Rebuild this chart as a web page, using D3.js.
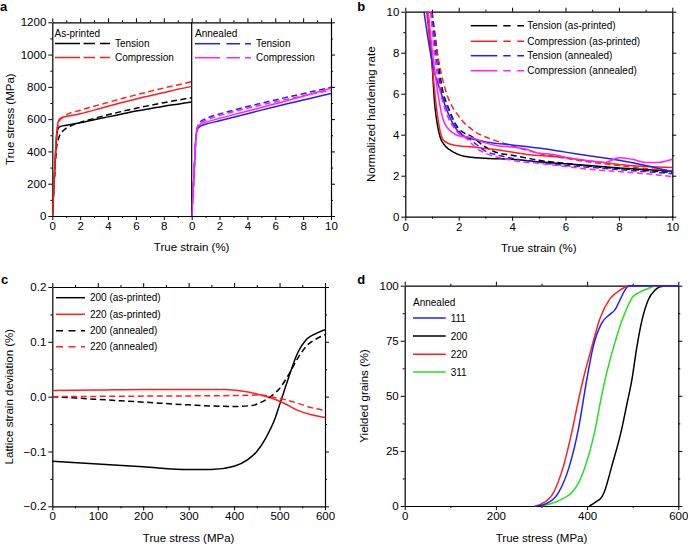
<!DOCTYPE html>
<html><head><meta charset="utf-8">
<script src="https://cdn.jsdelivr.net/npm/d3@7"></script>
<style>body{margin:0;background:#fff} svg{display:block;font-family:"Liberation Sans",Arial,sans-serif}</style>
</head><body><svg id="chart" width="688" height="544"></svg>
<script>
// ---------- DATA ----------
// Panel a: true stress (MPa) vs true strain (%)
const aPrintedTensionSolid = [[0,0],[0.1,150],[0.2,330],[0.3,480],[0.4,540],[0.6,555],[1,562],[2,578],[3,596],[4,614],[5,632],[6,650],[7,665],[8,680],[9,693],[10,706]];
const aPrintedTensionDash  = [[0,0],[0.1,150],[0.2,300],[0.3,420],[0.45,480],[0.6,510],[0.8,530],[1,545],[1.5,565],[2,580],[3,605],[4,627],[5,648],[6,667],[7,685],[8,702],[9,718],[10,733]];
const aPrintedCompSolid    = [[0,0],[0.1,170],[0.2,350],[0.3,500],[0.4,575],[0.5,600],[0.7,610],[1,616],[2,633],[3,656],[4,680],[5,703],[6,725],[7,745],[8,765],[9,785],[10,803]];
const aPrintedCompDash     = [[0,0],[0.1,160],[0.2,330],[0.3,480],[0.4,560],[0.55,595],[0.8,612],[1,625],[2,655],[3,680],[4,704],[5,728],[6,750],[7,772],[8,793],[9,812],[10,832]];
const aAnnealTensionSolid  = [[0,0],[0.1,150],[0.2,320],[0.3,480],[0.4,535],[0.6,555],[1,568],[2,590],[3,612],[4,634],[5,656],[6,677],[7,698],[8,718],[9,739],[10,759]];
const aAnnealTensionDash   = [[0,0],[0.1,150],[0.2,320],[0.3,480],[0.4,545],[0.6,582],[1,602],[2,632],[3,656],[4,678],[5,699],[6,719],[7,739],[8,758],[9,778],[10,797]];
const aAnnealCompSolid     = [[0,0],[0.1,150],[0.2,320],[0.3,480],[0.4,548],[0.6,568],[1,580],[2,605],[3,628],[4,650],[5,672],[6,695],[7,718],[8,742],[9,767],[10,792]];
const aAnnealCompDash      = [[0,0],[0.1,150],[0.2,320],[0.3,480],[0.4,545],[0.6,575],[1,592],[2,622],[3,646],[4,668],[5,688],[6,708],[7,727],[8,745],[9,762],[10,778]];
const aYTicks = [0,200,400,600,800,1000,1200];
const aXTicksLeft = [0,2,4,6,8];
const aXTicksRight = [0,2,4,6,8,10];

// Panel b: normalized hardening rate vs true strain (%)
const bTensionPrintedSolid = [[0.85,10],[1.0,7.5],[1.1,5.5],[1.2,4.5],[1.3,3.9],[1.5,3.45],[1.8,3.15],[2.2,2.95],[3,2.85],[4,2.8],[5,2.68],[6,2.58],[7,2.48],[8,2.38],[9,2.3],[10,2.22]];
const bTensionPrintedDash  = [[1.0,10],[1.15,8.5],[1.35,6.5],[1.65,5.2],[2,4.3],[2.5,3.9],[3,3.4],[3.5,3.1],[4,3.0],[5,2.75],[6,2.6],[7,2.45],[8,2.35],[9,2.25],[10,2.15]];
const bCompPrintedSolid    = [[0.8,10],[1.0,7.5],[1.15,5.5],[1.3,4.2],[1.45,3.7],[1.8,3.5],[2.5,3.4],[3.5,3.25],[4.5,3.05],[6,2.88],[7,2.7],[8,2.55],[9,2.45],[10,2.4]];
const bCompPrintedDash     = [[0.95,10],[1.1,8.8],[1.25,7.6],[1.55,6],[2.0,4.9],[2.55,4.2],[3.3,3.75],[4,3.45],[5,3.1],[6,2.85],[7,2.65],[8,2.5],[9,2.35],[10,2.25]];
const bTensionAnnealSolid  = [[0.7,10],[0.9,8.3],[1.1,7],[1.3,6.2],[1.5,5.4],[1.8,4.5],[2.1,4.0],[2.5,3.8],[3,3.65],[4,3.5],[5,3.35],[6,3.15],[7,2.95],[8,2.75],[9,2.5],[10,2.2]];
const bTensionAnnealDash   = [[1.0,10],[1.1,8.5],[1.3,6.5],[1.6,5.3],[2,4.2],[2.5,3.7],[3,3.2],[3.5,3.0],[4,2.85],[5,2.65],[6,2.5],[7,2.4],[8,2.3],[9,2.2],[10,2.1]];
const bCompAnnealSolid     = [[0.85,10],[1.0,8.2],[1.2,6.2],[1.4,4.8],[1.6,4.3],[2.0,3.95],[2.5,3.85],[3,3.6],[3.5,3.45],[4,3.4],[4.5,3.3],[5,3.1],[5.5,3.05],[6,2.9],[7,2.7],[7.5,2.65],[8,2.88],[8.5,2.8],[9,2.65],[9.5,2.65],[10,2.8]];
const bCompAnnealDash      = [[0.95,10],[1.05,8.5],[1.25,6.5],[1.5,5.2],[1.9,4.2],[2.3,3.8],[2.7,3.3],[3,3.1],[4,2.75],[5,2.6],[6,2.45],[7,2.3],[8,2.2],[9,2.1],[10,1.95]];
const bXTicks = [0,2,4,6,8,10];
const bYTicks = [0,2,4,6,8,10];

// Panel c: lattice strain deviation (%) vs true stress (MPa)
const c200Printed = [[0,-0.118],[100,-0.123],[200,-0.128],[300,-0.133],[350,-0.133],[400,-0.127],[430,-0.115],[450,-0.1],[470,-0.075],[490,-0.04],[500,-0.015],[510,0.01],[520,0.035],[540,0.08],[560,0.105],[580,0.115],[600,0.122]];
const c220Printed = [[0,0.011],[100,0.012],[200,0.013],[300,0.013],[380,0.013],[420,0.01],[450,0.005],[480,-0.002],[510,-0.012],[540,-0.025],[570,-0.033],[600,-0.038]];
const c200Anneal  = [[0,0],[100,-0.005],[200,-0.01],[300,-0.015],[400,-0.018],[440,-0.016],[460,-0.01],[480,0.0],[500,0.015],[520,0.04],[540,0.07],[560,0.093],[580,0.105],[600,0.113]];
const c220Anneal  = [[0,0.0],[200,0.001],[400,0.002],[460,0.003],[480,0.0],[510,-0.005],[540,-0.012],[570,-0.02],[600,-0.025]];
const cXTicks = [0,100,200,300,400,500,600];
const cYTicks = [-0.2,-0.1,0,0.1,0.2];
const cYLabels = ["\u22120.2","\u22120.1","0.0","0.1","0.2"];

// Panel d: yielded grains (%) vs true stress (MPa), annealed
const d111 = [[290,0],[310,1],[337,6],[361,18],[381,35],[399,57],[413,72],[432,83],[450,87],[461,89],[472,93.5],[483,98],[492,100],[600,100]];
const d200 = [[405,0],[420,2],[432,4],[437,6],[454,18],[476,35],[487,46],[498,57],[509,72],[520,84],[534,93.5],[549,98],[560,99.5],[580,100],[600,100]];
const d220 = [[285,0],[300,1],[326,6],[348,18],[368,35],[381,48],[392,58],[410,72],[428,85],[450,94],[472,98],[494,100],[600,100]];
const d311 = [[300,0],[320,1],[344,3],[366,6],[380,10],[396,18],[417,34],[428,46],[439,57],[458,72],[476,84],[490,91],[500,95],[515,97],[531,98.5],[553,100],[600,100]];
const dXTicks = [0,200,400,600];
const dYTicks = [0,25,50,75,100];

// ---------- DRAWING ----------
const svg = d3.select("#chart");
const FONT = 11.5, LEG = 10;
const BLACK="#000", RED="#ff1f1f", BLUE="#1f1fff", MAG="#ff1fff", GREEN="#22e022";

function axis(g, orient, scale, pos, major, minor, fmt) {
  const mk = {bottom:d3.axisBottom, top:d3.axisTop, left:d3.axisLeft, right:d3.axisRight}[orient];
  const tr = (orient==="bottom"||orient==="top") ? `translate(0,${pos})` : `translate(${pos},0)`;
  const a = g.append("g").attr("transform", tr)
    .call(mk(scale).tickValues(major).tickSize(4).tickSizeOuter(0).tickPadding(2).tickFormat(fmt || (() => "")));
  a.attr("font-size", FONT).attr("font-family", null);
  a.select(".domain").attr("stroke-width", 1.2);
  a.selectAll(".tick line").attr("stroke-width", 1);
  const m = g.append("g").attr("transform", tr)
    .call(mk(scale).tickValues(minor).tickSize(2).tickSizeOuter(0).tickFormat(() => ""));
  m.select(".domain").remove();
}
function range(a,b,s){const r=[];for(let v=a;v<=b+1e-9;v+=s)r.push(+v.toFixed(6));return r;}
function line(g, x, y, data, color, dash, clipId) {
  g.append("path").datum(data)
    .attr("fill","none").attr("stroke",color).attr("stroke-width",1.5)
    .attr("stroke-dasharray", dash ? "6,3.5" : null)
    .attr("clip-path", clipId ? `url(#${clipId})` : null)
    .attr("d", d3.line().x(d=>x(d[0])).y(d=>y(d[1])).curve(d3.curveMonotoneX));
}
function clip(id, x0, y0, x1, y1) {
  svg.append("clipPath").attr("id", id).append("rect").attr("x",x0).attr("y",y0).attr("width",x1-x0).attr("height",y1-y0);
}
function text(g, x, y, s, opts={}) {
  const t = g.append("text").attr("x",x).attr("y",y).text(s)
    .attr("font-size", opts.size || LEG).attr("dy", opts.dy ?? "0.35em")
    .attr("text-anchor", opts.anchor || "start");
  if (opts.bold) t.attr("font-weight","bold");
  if (opts.rotate) t.attr("transform", `rotate(-90,${x},${y})`);
  return t;
}
function legLine(g, x0, x1, y, color, style) {
  if (style === "solid") {
    g.append("line").attr("x1",x0).attr("x2",x1).attr("y1",y).attr("y2",y).attr("stroke",color).attr("stroke-width",1.5);
  } else if (style.type === "dash") {
    g.append("line").attr("x1",x0).attr("x2",x1).attr("y1",y).attr("y2",y).attr("stroke",color).attr("stroke-width",1.5).attr("stroke-dasharray",style.pattern);
  } else {
    g.append("line").attr("x1",x0).attr("x2",style.split).attr("y1",y).attr("y2",y).attr("stroke",color).attr("stroke-width",1.5);
    g.append("line").attr("x1",style.dashStart).attr("x2",x1).attr("y1",y).attr("y2",y).attr("stroke",color).attr("stroke-width",1.5).attr("stroke-dasharray",style.pattern);
  }
}

// ----- Panel a -----
{
  const g = svg.append("g");
  const L=52.3, M=191.7, R=331, T=22.3, B=216;
  const y = d3.scaleLinear().domain([0,1200]).range([B,T]);
  const x1 = d3.scaleLinear().domain([0,10]).range([L,M]);
  const x2 = d3.scaleLinear().domain([0,10]).range([M,R]);
  clip("clipA1", L, T, M, B); clip("clipA2", M, T, R, B);
  axis(g,"left",y,L,aYTicks,range(100,1100,200),d=>d);
  axis(g,"right",y,R,aYTicks,range(100,1100,200));
  axis(g,"bottom",x1,B,aXTicksLeft,range(1,9,2),d=>d);
  axis(g,"bottom",x2,B,aXTicksRight,range(1,9,2),d=>d);
  axis(g,"top",x1,T,aXTicksLeft,range(1,9,2));
  axis(g,"top",x2,T,aXTicksRight,range(1,9,2));
  g.append("line").attr("x1",M).attr("x2",M).attr("y1",T).attr("y2",B).attr("stroke","#000").attr("stroke-width",1.2);
  line(g,x1,y,aPrintedTensionSolid,BLACK,false,"clipA1");
  line(g,x1,y,aPrintedTensionDash,BLACK,true,"clipA1");
  line(g,x1,y,aPrintedCompSolid,RED,false,"clipA1");
  line(g,x1,y,aPrintedCompDash,RED,true,"clipA1");
  line(g,x2,y,aAnnealTensionSolid,BLUE,false,"clipA2");
  line(g,x2,y,aAnnealTensionDash,BLUE,true,"clipA2");
  line(g,x2,y,aAnnealCompSolid,MAG,false,"clipA2");
  line(g,x2,y,aAnnealCompDash,MAG,true,"clipA2");
  text(g,54.5,33.3,"As-printed");
  const ls1 = {split:80, dashStart:83.5, pattern:"11.5,5"};
  legLine(g,55,110,43.5,BLACK,ls1); text(g,115,43.5,"Tension");
  legLine(g,55,110,57.5,RED,ls1); text(g,115,57.5,"Compression");
  text(g,195,33.3,"Annealed");
  const ls2 = {split:220, dashStart:226.5, pattern:"13.5,5"};
  legLine(g,195,251,43.7,BLUE,ls2); text(g,256,43.7,"Tension");
  legLine(g,195,251,57.7,MAG,ls2); text(g,256,57.7,"Compression");
  text(g,(L+R)/2,246.7,"True strain (%)",{size:FONT,anchor:"middle"});
  text(g,10,(T+B)/2,"True stress (MPa)",{size:FONT,anchor:"middle",rotate:true});
  text(g,0,10.5,"a",{size:13,bold:true,dy:0});
}

// ----- Panel b -----
{
  const g = svg.append("g");
  const L=405.3, R=672.3, T=11.7, B=216.7;
  const x = d3.scaleLinear().domain([0,10]).range([L,R]);
  const y = d3.scaleLinear().domain([0,10]).range([B,T]);
  clip("clipB", L, T, R, B);
  axis(g,"left",y,L,bYTicks,range(1,9,2),d=>d);
  axis(g,"right",y,R,bYTicks,range(1,9,2));
  axis(g,"bottom",x,B,bXTicks,range(1,9,2),d=>d);
  axis(g,"top",x,T,bXTicks,range(1,9,2));
  line(g,x,y,bTensionPrintedSolid,BLACK,false,"clipB");
  line(g,x,y,bTensionPrintedDash,BLACK,true,"clipB");
  line(g,x,y,bCompPrintedSolid,RED,false,"clipB");
  line(g,x,y,bCompPrintedDash,RED,true,"clipB");
  line(g,x,y,bTensionAnnealSolid,BLUE,false,"clipB");
  line(g,x,y,bTensionAnnealDash,BLUE,true,"clipB");
  line(g,x,y,bCompAnnealSolid,MAG,false,"clipB");
  line(g,x,y,bCompAnnealDash,MAG,true,"clipB");
  const ls = {split:497.3, dashStart:503.3, pattern:"7.4,6.6"};
  const rows = [["Tension (as-printed)",BLACK,25.7],["Compression (as-printed)",RED,41.3],["Tension (annealed)",BLUE,55.7],["Compression (annealed)",MAG,70.7]];
  rows.forEach(([s,c,yy]) => { legLine(g,470.7,524,yy,c,ls); text(g,527.3,yy,s); });
  text(g,(L+R)/2,248,"True strain (%)",{size:FONT,anchor:"middle"});
  text(g,370.7,(T+B)/2,"Normalized hardening rate",{size:FONT,anchor:"middle",rotate:true});
  text(g,357.3,10.7,"b",{size:13,bold:true,dy:0});
}

// ----- Panel c -----
{
  const g = svg.append("g");
  const L=52.3, R=325, T=287, B=506.3;
  const x = d3.scaleLinear().domain([0,600]).range([L,R]);
  const y = d3.scaleLinear().domain([-0.2,0.2]).range([B,T]);
  clip("clipC", L, T, R, B);
  axis(g,"left",y,L,cYTicks,range(-0.15,0.15,0.1),(d,i)=>cYLabels[i]);
  axis(g,"right",y,R,cYTicks,range(-0.15,0.15,0.1));
  axis(g,"bottom",x,B,cXTicks,range(50,550,100),d=>d);
  axis(g,"top",x,T,cXTicks,range(50,550,100));
  line(g,x,y,c200Printed,BLACK,false,"clipC");
  line(g,x,y,c220Printed,RED,false,"clipC");
  line(g,x,y,c200Anneal,BLACK,true,"clipC");
  line(g,x,y,c220Anneal,RED,true,"clipC");
  legLine(g,56,85,297.7,BLACK,"solid"); text(g,90,297.7,"200 (as-printed)");
  legLine(g,56,85,314.3,RED,"solid"); text(g,90,314.3,"220 (as-printed)");
  legLine(g,56,85,330.7,BLACK,{type:"dash",pattern:"7,5.5"}); text(g,90,330.7,"200 (annealed)");
  legLine(g,56,85,346.7,RED,{type:"dash",pattern:"7,5.5"}); text(g,90,346.7,"220 (annealed)");
  text(g,(L+R)/2,537.7,"True stress (MPa)",{size:FONT,anchor:"middle"});
  text(g,9,(T+B)/2,"Lattice strain deviation (%)",{size:FONT,anchor:"middle",rotate:true});
  text(g,1,284,"c",{size:13,bold:true,dy:0});
}

// ----- Panel d -----
{
  const g = svg.append("g");
  const L=404.7, R=678.3, T=285.7, B=506;
  const x = d3.scaleLinear().domain([0,600]).range([L,R]);
  const y = d3.scaleLinear().domain([0,100]).range([B,T]);
  clip("clipD", L, T-1, R, B+1);
  axis(g,"left",y,L,dYTicks,range(12.5,87.5,25),d=>d);
  axis(g,"right",y,R,dYTicks,range(12.5,87.5,25));
  axis(g,"bottom",x,B,dXTicks,range(100,500,200),d=>d);
  axis(g,"top",x,T,dXTicks,range(100,500,200));
  line(g,x,y,d311,GREEN,false,"clipD");
  line(g,x,y,d200,BLACK,false,"clipD");
  line(g,x,y,d220,RED,false,"clipD");
  line(g,x,y,d111,BLUE,false,"clipD");
  text(g,413,302,"Annealed");
  [["111",BLUE,318],["200",BLACK,336],["220",RED,354.3],["311",GREEN,372]].forEach(([s,c,yy]) => {
    legLine(g,413,445.7,yy,c,"solid"); text(g,450.7,yy,s);
  });
  text(g,(L+R)/2,537.7,"True stress (MPa)",{size:FONT,anchor:"middle"});
  text(g,364,(T+B)/2,"Yielded grains (%)",{size:FONT,anchor:"middle",rotate:true});
  text(g,357.3,284,"d",{size:13,bold:true,dy:0});
}
</script></body></html>
